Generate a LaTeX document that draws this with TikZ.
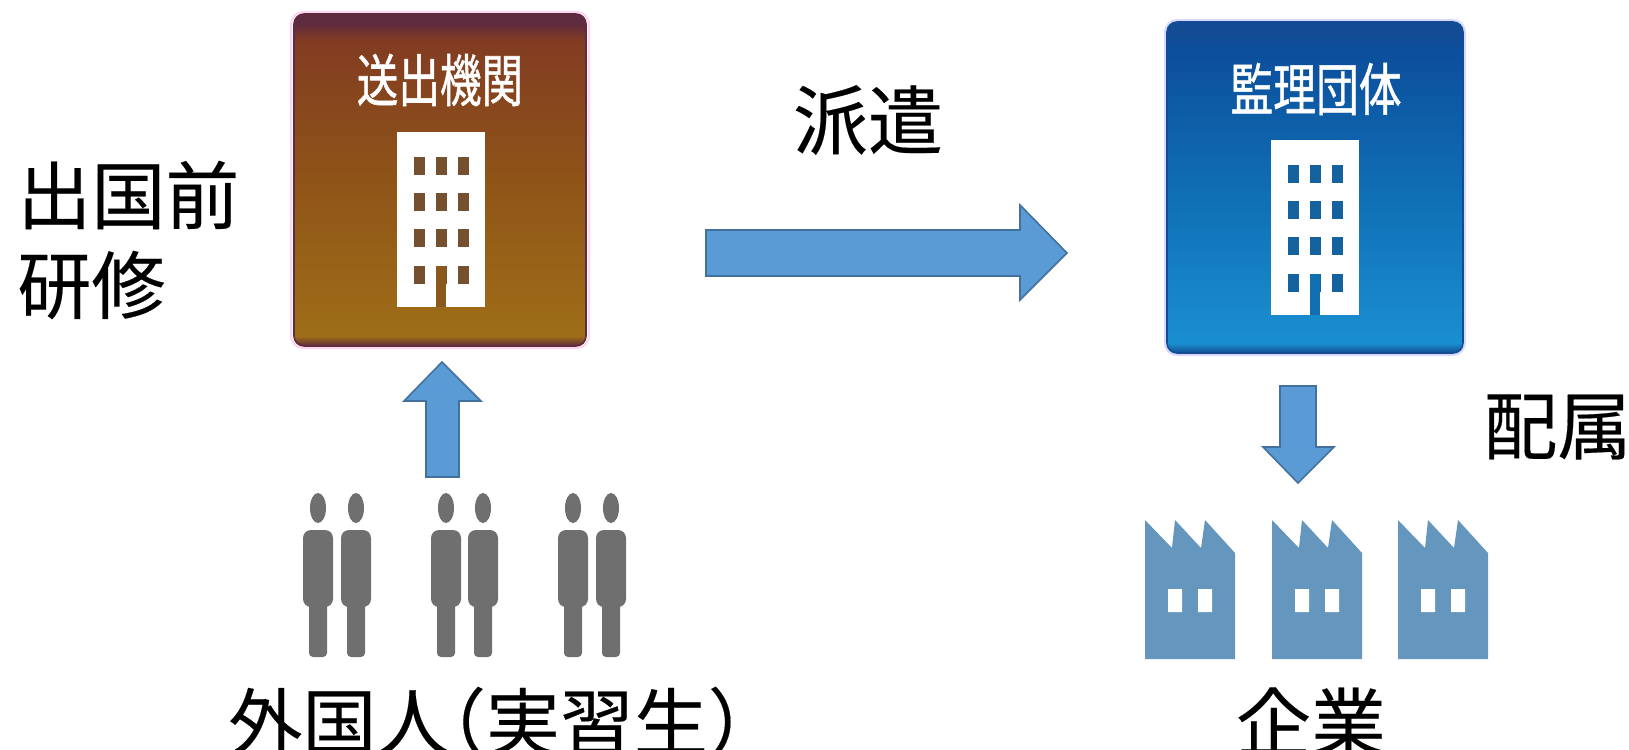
\documentclass[tikz,border=0pt]{standalone}
\usepackage{graphicx}
\usepackage{fontspec}
\newfontfamily\jpfont{Noto Sans CJK JP}[FakeBold=0.25]
\newfontfamily\jpbold{Noto Sans CJK JP}[FakeBold=1.0]
\definecolor{arrowfill}{HTML}{5B9BD5}
\definecolor{arrowedge}{HTML}{41719C}
\definecolor{persongray}{HTML}{6F6F6F}
\definecolor{factoryblue}{HTML}{6496BE}
\definecolor{BrownEdge}{HTML}{5F2B3E}
\definecolor{BrownWin}{HTML}{75502F}
\definecolor{BrownDoor}{HTML}{8A5A1C}
\definecolor{BrownLow}{HTML}{9E6E18}
\definecolor{BrownMid}{HTML}{8F5418}
\definecolor{BrownHigh}{HTML}{823C22}
\definecolor{BlueEdge}{HTML}{134C94}
\definecolor{BlueWin}{HTML}{14639F}
\definecolor{BlueDoor}{HTML}{0F6FB0}
\definecolor{BlueLow}{HTML}{1A8FD0}
\definecolor{BlueMid}{HTML}{0F6DB4}
\definecolor{BlueHigh}{HTML}{0C4E9B}
\pgfdeclareverticalshading{browncard}{100bp}{
  color(0bp)=(BrownEdge); color(25bp)=(BrownEdge);
  color(26.5bp)=(BrownLow);
  color(50bp)=(BrownMid);
  color(71bp)=(BrownHigh);
  color(73.5bp)=(BrownEdge); color(100bp)=(BrownEdge)}
\pgfdeclareverticalshading{bluecard}{100bp}{
  color(0bp)=(BlueEdge); color(25bp)=(BlueEdge);
  color(26.5bp)=(BlueLow);
  color(50bp)=(BlueMid);
  color(71bp)=(BlueHigh);
  color(73.5bp)=(BlueEdge); color(100bp)=(BlueEdge)}
\tikzset{
  blockarrow/.style={fill=arrowfill,draw=arrowedge,line width=0.8pt,line join=miter},
  biglabel/.style={font=\jpfont\fontsize{37}{40}\selectfont,text=black,inner sep=0pt,anchor=center},
  cardlabel/.style={font=\jpbold\fontsize{20}{22}\selectfont,text=white,inner sep=0pt,anchor=center},
  brownpanel/.style={rounded corners=5pt,shading=browncard,draw=BrownEdge,line width=0.8pt},
  bluepanel/.style={rounded corners=5pt,shading=bluecard,draw=BlueEdge,line width=0.8pt},
  halo/.style={rounded corners=6pt,line width=1pt},
  pics/tower/.style 2 args={code={
    \fill[white] (-44,0) rectangle (44,175);
    \foreach \wy in {34,70,106,143}{\foreach \wx in {-22,0,22}{\fill[#1] (\wx-5.5,\wy-9) rectangle (\wx+5.5,\wy+9);}}
    \fill[#2] (-5,134) rectangle (5,175);
  }},
  pics/plant/.style={code={
    \fill[factoryblue] (0,0) -- (27,28) -- (30,0) -- (56,28) -- (60,0) -- (90,33) -- (90,139) -- (0,139) -- cycle;
    \fill[white] (23,69) rectangle (37,92) (53,69) rectangle (67,92);
  }},
  pics/worker/.style={code={
    \fill[persongray] (0,0) ellipse [x radius=8,y radius=15];
    \fill[persongray,rounded corners=4pt] (-15,22) rectangle (15,99);
    \fill[persongray,rounded corners=2pt] (-9,90) rectangle (9,149);
  }}
}
\begin{document}
\begin{tikzpicture}[x=0.5pt,y=-0.5pt]
\useasboundingbox (0,0) rectangle (1629,750);
\clip (0,0) rectangle (1629,750);
% cards
\draw[halo,draw=pink!70!magenta!35] (291,12) rectangle (589,348);
\path[brownpanel] (294,14) rectangle (586,346);
\node[cardlabel] (sender) at (440,80) {\scalebox{1.04}[1.42]{送出機関}};
\pic at (441,132) {tower={BrownWin}{BrownDoor}};
\draw[halo,draw=blue!15] (1165,20) rectangle (1465,355);
\path[bluepanel] (1167,22) rectangle (1463,353);
\node[cardlabel] (kanri) at (1316,89) {\scalebox{1.07}[1.42]{監理団体}};
\pic at (1315,140) {tower={BlueWin}{BlueDoor}};
% block arrows
\draw[blockarrow] (706,230) -- (1020,230) -- (1020,205) -- (1067,253) -- (1020,300) -- (1020,276) -- (706,276) -- cycle;
\draw[blockarrow] (426,477) -- (426,401) -- (404,401) -- (442,362) -- (481,401) -- (459,401) -- (459,477) -- cycle;
\draw[blockarrow] (1280,386) -- (1316,386) -- (1316,447) -- (1334,447) -- (1298,483) -- (1263,447) -- (1280,447) -- cycle;
% people
\foreach \px in {318,356,446,483,573,611}{\pic at (\px,508) {worker};}
% factories
\foreach \fx in {1145,1272,1398}{\pic at (\fx,520) {plant};}
% labels
\node[biglabel,font=\jpfont\fontsize{37.5}{40}\selectfont] (haken) at (868,120) {派遣};
\node[biglabel,anchor=west] (pre1) at (17,195) {出国前};
\node[biglabel,anchor=west] (pre2) at (17,285) {研修};
\node[biglabel,anchor=west] (haizoku) at (1483,427) {配属};
\node[biglabel,anchor=west] (gaikoku) at (228,722) {外国人\hspace{-0.52em}（実習生）};
\node[biglabel,font=\jpfont\fontsize{37.5}{40}\selectfont] (kigyo) at (1311,722) {企業};
\end{tikzpicture}
\end{document}
